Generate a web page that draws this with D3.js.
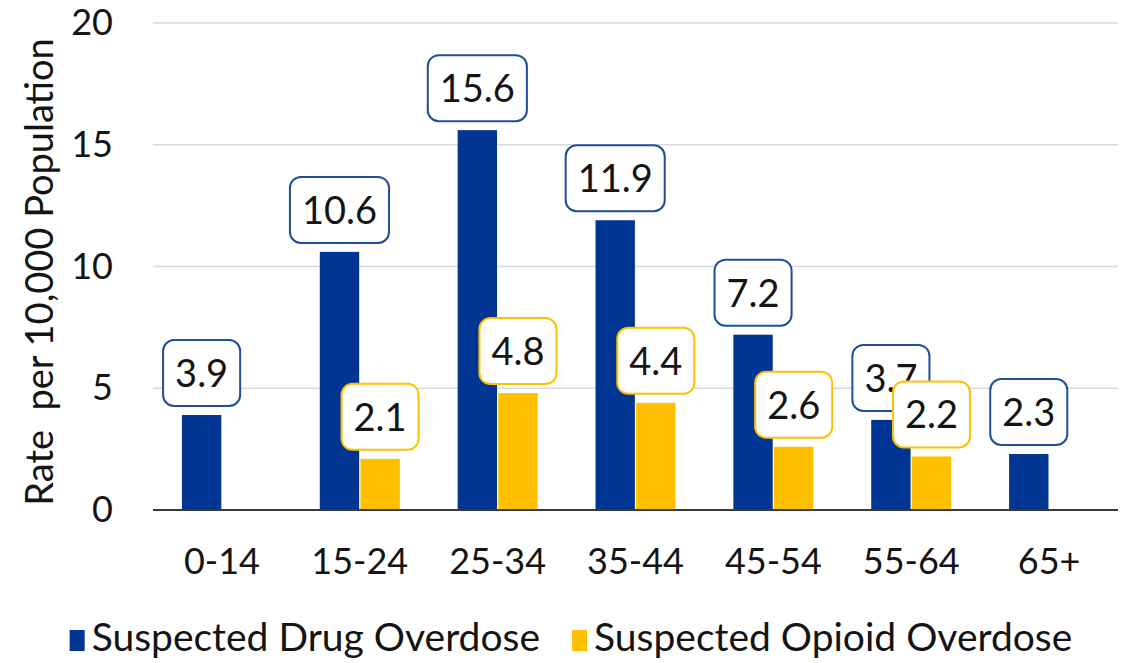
<!DOCTYPE html>
<meta charset="utf-8" />
<style>
  body { margin: 0; background: #fff; }
  text { font-family: Lato, "Open Sans", sans-serif; fill: #141414; }
  .grid line { stroke: #d9d9d9; stroke-width: 1.5px; }
  .label-box { fill: #fff; stroke-width: 2px; }
</style>
<body>
  <script src="https://d3js.org/d3.v7.min.js"></script>
  <script>
    // chart data
    var categories = ['0-14', '15-24', '25-34', '35-44', '45-54', '55-64', '65+'];
    var drugRates = [3.9, 10.6, 15.6, 11.9, 7.2, 3.7, 2.3];
    var opioidRates = [null, 2.1, 4.8, 4.4, 2.6, 2.2, null];
    var seriesNames = ['Suspected Drug Overdose', 'Suspected Opioid Overdose'];
    var yTicks = [0, 5, 10, 15, 20];

    var colors = { drug: '#003594', opioid: '#ffc000' };
    var strokes = { drug: '#1f4e9c', opioid: '#ffc000' };

    var margin = { top: 23, right: 9, bottom: 153, left: 153 },
      width = 1127 - margin.left - margin.right,
      height = 663 - margin.top - margin.bottom;

    var svg = d3
      .select('body')
      .append('svg')
      .attr('width', 1127)
      .attr('height', 663);

    var g = svg
      .append('g')
      .attr('transform', 'translate(' + margin.left + ',' + margin.top + ')');

    var x = d3.scaleBand().domain(categories).range([0, width]);
    var bw = x.bandwidth();
    var xs = d3
      .scaleBand()
      .domain(['drug', 'opioid'])
      .range([bw / 2 - 40, bw / 2 + 40])
      .paddingInner(0.03);
    var y = d3.scaleLinear().domain([0, 20]).range([height, 0]);

    // gridlines
    g.append('g')
      .attr('class', 'grid')
      .selectAll('line')
      .data(yTicks.filter(function(d) { return d > 0; }))
      .enter()
      .append('line')
      .attr('x1', 0)
      .attr('x2', width)
      .attr('y1', function(d) { return y(d); })
      .attr('y2', function(d) { return y(d); });

    // y axis labels
    var yAxis = g.append('g')
      .attr('transform', 'translate(-26,0)')
      .call(d3.axisLeft(y).tickValues(yTicks).tickSize(0).tickPadding(14));
    yAxis.select('.domain').remove();
    yAxis.selectAll('text')
      .style('font-size', '36px')
      .style('font-family', 'Lato, sans-serif')
      .attr('fill', '#141414');

    // build row data
    var rows = categories.map(function(c, i) {
      return { cat: c, drug: drugRates[i], opioid: opioidRates[i] };
    });
    var bars = [];
    rows.forEach(function(r) {
      ['drug', 'opioid'].forEach(function(k) {
        if (r[k] !== null) bars.push({ cat: r.cat, key: k, value: r[k] });
      });
    });

    g.selectAll('.bar')
      .data(bars)
      .enter()
      .append('rect')
      .attr('class', 'bar')
      .attr('x', function(d) { return x(d.cat) + xs(d.key); })
      .attr('width', xs.bandwidth())
      .attr('y', function(d) { return y(d.value); })
      .attr('height', function(d) { return height - y(d.value); })
      .attr('fill', function(d) { return colors[d.key]; });

    // baseline
    g.append('line')
      .attr('x1', 0)
      .attr('x2', width)
      .attr('y1', y(0))
      .attr('y2', y(0))
      .attr('stroke', '#3a3a3a')
      .attr('stroke-width', 2);

    // x axis
    var xAxis = g.append('g')
      .attr('transform', 'translate(0,' + height + ')')
      .call(d3.axisBottom(x).tickSize(0).tickPadding(38));
    xAxis.select('.domain').remove();
    xAxis.selectAll('text')
      .style('font-size', '36px')
      .style('font-family', 'Lato, sans-serif')
      .attr('fill', '#141414');

    // data labels, drug first so opioid boxes sit on top
    var labelsData = bars.filter(function(d) { return d.key === 'drug'; })
      .concat(bars.filter(function(d) { return d.key === 'opioid'; }));
    var boxH = 66;
    var lbl = g.selectAll('.lbl')
      .data(labelsData)
      .enter()
      .append('g')
      .attr('class', 'lbl')
      .attr('transform', function(d) {
        var cx = x(d.cat) + xs(d.key) + xs.bandwidth() / 2;
        var cy = y(d.value) - 9 - boxH / 2;
        return 'translate(' + cx + ',' + cy + ')';
      });
    lbl.append('rect')
      .attr('class', 'label-box')
      .attr('stroke', function(d) { return strokes[d.key]; })
      .attr('rx', 11)
      .attr('ry', 11);
    var texts = lbl.append('text')
      .attr('text-anchor', 'middle')
      .attr('dy', '0.37em')
      .style('font-size', '38px')
      .text(function(d) { return d.value.toFixed(1); });
    texts.each(function(d) {
      var w = this.getComputedTextLength() + 24;
      d3.select(this.parentNode).select('rect')
        .attr('x', -w / 2)
        .attr('y', -boxH / 2)
        .attr('width', w)
        .attr('height', boxH);
    });

    // y axis title
    svg.append('text')
      .attr('transform', 'translate(53,272) rotate(-90)')
      .attr('text-anchor', 'middle')
      .attr('xml:space', 'preserve')
      .style('font-size', '38px')
      .style('white-space', 'pre')
      .text('Rate  per 10,000 Population');

    // legend
    var legend = svg.append('g').attr('class', 'legend');
    var lx = 0;
    ['drug', 'opioid'].forEach(function(k, i) {
      var item = legend.append('g').attr('transform', 'translate(' + lx + ',0)');
      item.append('rect')
        .attr('x', 0)
        .attr('y', -21)
        .attr('width', 15)
        .attr('height', 21)
        .attr('fill', colors[k]);
      var t = item.append('text')
        .attr('x', 22)
        .attr('y', 0)
        .style('font-size', '39px')
        .text(seriesNames[i]);
      lx += 22 + t.node().getComputedTextLength() + 32;
    });
    var lw = lx - 32;
    legend.attr('transform', 'translate(' + (571 - lw / 2) + ',651)');
  </script>
</body>
